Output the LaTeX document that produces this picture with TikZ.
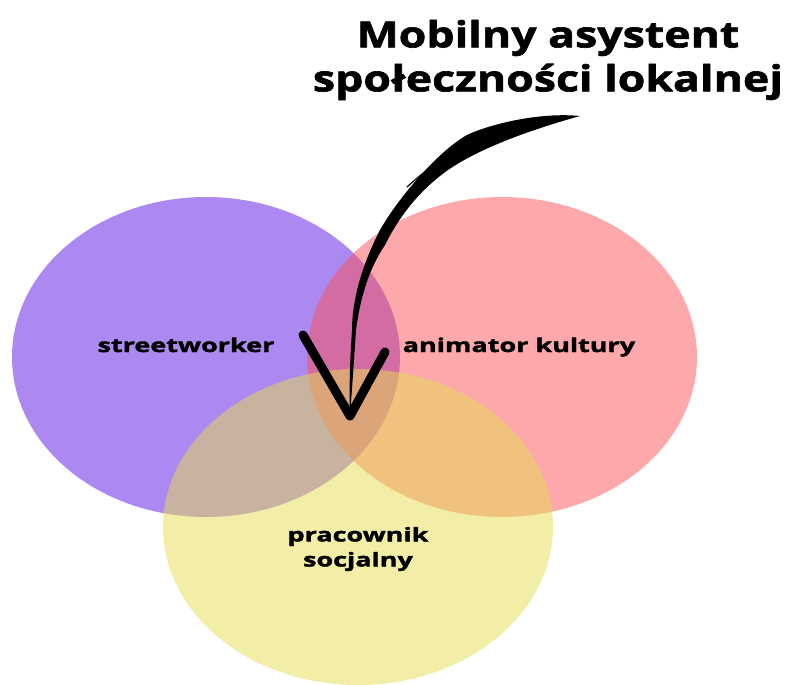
\documentclass[tikz,border=0pt]{standalone}
\usepackage{fontspec}
\setmainfont{Open Sans}
\newfontfamily\labelfont{Open Sans}[BoldFeatures={FakeStretch=1.42,FakeBold=2}]
\newfontfamily\titlefont{Open Sans}[BoldFeatures={FakeStretch=1.24,FakeBold=1.8}]
\begin{document}
\begin{tikzpicture}[x=1pt, y=-1pt, line join=round, line cap=round,
    set/.style={opacity=0.5},
    lbl/.style={font=\labelfont\bfseries\fontsize{19}{25}\selectfont, align=center, inner sep=0pt},
    ttl/.style={font=\titlefont\bfseries\fontsize{36}{44}\selectfont, align=center, inner sep=0pt}]
  \useasboundingbox (0,0) rectangle (788,685);
  \definecolor{streetc}{RGB}{89,19,227}
  \definecolor{animc}{RGB}{251,81,85}
  \definecolor{socc}{RGB}{229,221,81}
  % three sets
  \fill[set, streetc] (206,357) ellipse [x radius=194, y radius=160];
  \fill[set, animc] (502,357) ellipse [x radius=195, y radius=160];
  \fill[set, socc] (358,527) ellipse [x radius=195, y radius=158];
  % labels
  \node[lbl, anchor=base] (street) at (186,352) {streetworker};
  \node[lbl, anchor=base] (anim) at (519,352) {animator kultury};
  \node[lbl] (soc) at (358,549) {pracownik\\socjalny};
  \node[ttl] (title) at (548,60) {Mobilny asystent\\społeczności lokalnej};
  % brush arrow
  \coordinate (tip) at (350,416);
  \fill (580,116) .. controls (540,112) and (490,124) .. (467,135)
     .. controls (440,150) and (400,195) .. (380,230)
     .. controls (362,265) and (352,300) .. (352,330)
     .. controls (350,360) and (349,390) .. (tip)
     .. controls (352,390) and (354,360) .. (356,330)
     .. controls (360,300) and (368,270) .. (385,245)
     .. controls (400,215) and (420,190) .. (448,170)
     .. controls (480,148) and (530,130) .. (580,116) -- cycle;
  \draw[line width=1.2pt] (407,187) .. controls (420,175) and (435,163) .. (450,157);
  \draw[line width=9pt] (303,335) -- (tip) -- (385,352);
\end{tikzpicture}
\end{document}
